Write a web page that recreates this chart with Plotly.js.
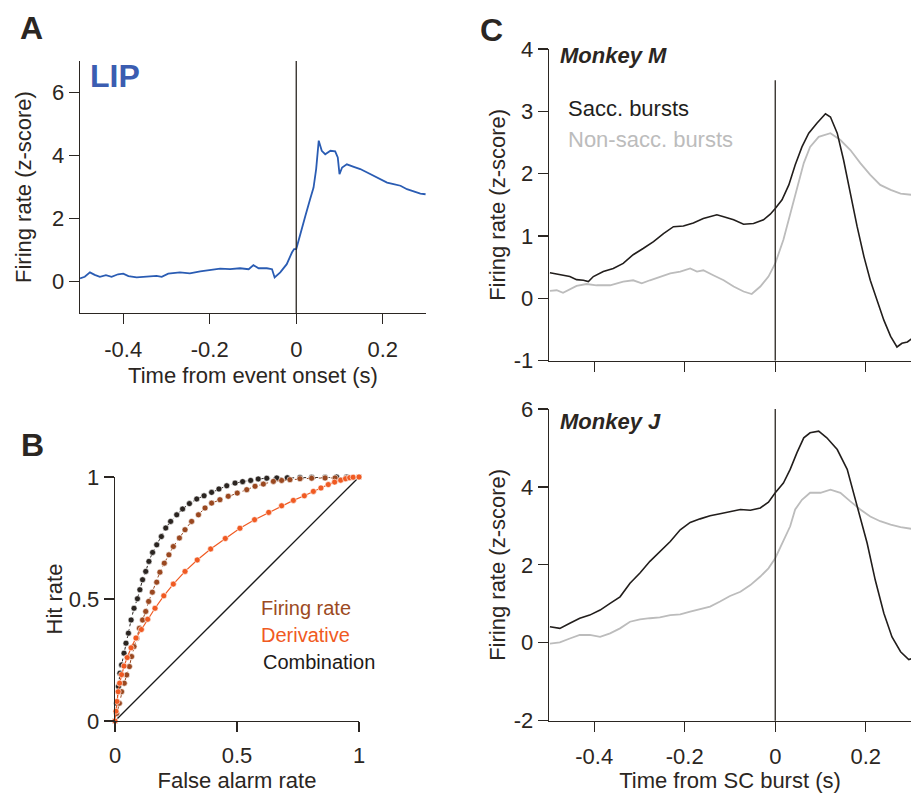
<!DOCTYPE html>
<html>
<head>
<meta charset="utf-8">
<script src="https://cdn.plot.ly/plotly-3.0.1.min.js"></script>
<style>html,body{margin:0;padding:0;background:#fff;}#chart{width:914px;height:793px;}</style>
</head>
<body>
<div id="chart"></div>
<script>
// ---------- Panel A: LIP ----------
const lipTime = [-0.5,-0.489,-0.477,-0.466,-0.454,-0.44,-0.427,-0.412,-0.4,-0.388,-0.369,-0.346,-0.323,-0.311,-0.296,-0.269,-0.246,-0.222,-0.199,-0.176,-0.153,-0.13,-0.11,-0.099,-0.087,-0.068,-0.056,-0.05,-0.037,-0.022,-0.01,-0.005,0,0.009,0.021,0.032,0.04,0.046,0.052,0.059,0.067,0.079,0.09,0.096,0.1,0.106,0.117,0.133,0.148,0.164,0.179,0.195,0.21,0.225,0.241,0.256,0.272,0.287,0.299];
const lipRate = [0.1,0.15,0.29,0.21,0.15,0.2,0.15,0.23,0.25,0.17,0.13,0.15,0.18,0.15,0.25,0.29,0.26,0.32,0.36,0.41,0.39,0.42,0.39,0.52,0.42,0.42,0.39,0.13,0.29,0.55,0.92,1.03,1.03,1.45,2.08,2.61,2.98,3.57,4.47,4.15,4.04,4.15,4.13,3.94,3.41,3.62,3.72,3.64,3.57,3.46,3.35,3.25,3.14,3.09,3.04,2.93,2.86,2.79,2.77];

// ---------- Panel B: ROC ----------
const rocFaFiring = [0,0.007,0.018,0.027,0.038,0.048,0.059,0.068,0.078,0.089,0.1,0.113,0.126,0.138,0.153,0.171,0.184,0.202,0.221,0.239,0.264,0.287,0.314,0.342,0.369,0.396,0.43,0.464,0.501,0.54,0.574,0.608,0.649,0.683,0.717,0.758,0.806,0.861,0.902,0.949,1];
const rocHitFiring = [0,0.031,0.073,0.12,0.155,0.189,0.223,0.264,0.305,0.339,0.38,0.414,0.449,0.49,0.528,0.569,0.61,0.647,0.681,0.715,0.75,0.784,0.818,0.845,0.873,0.893,0.907,0.921,0.934,0.948,0.962,0.971,0.982,0.986,0.989,0.993,0.995,0.996,0.996,0.996,1];
const rocFaDeriv = [0,0.004,0.008,0.013,0.019,0.027,0.037,0.05,0.066,0.086,0.108,0.134,0.164,0.2,0.239,0.287,0.337,0.392,0.452,0.512,0.572,0.63,0.683,0.731,0.776,0.813,0.844,0.874,0.9,0.925,0.945,0.962,0.976,1];
const rocHitDeriv = [0,0.04,0.08,0.12,0.155,0.19,0.225,0.26,0.3,0.34,0.375,0.417,0.462,0.513,0.561,0.613,0.66,0.705,0.748,0.79,0.825,0.855,0.882,0.904,0.923,0.941,0.955,0.969,0.979,0.987,0.993,0.997,0.999,1];
const rocFaComb = [0,0.007,0.014,0.02,0.027,0.037,0.045,0.055,0.066,0.078,0.092,0.102,0.113,0.126,0.139,0.154,0.171,0.19,0.208,0.228,0.253,0.277,0.305,0.335,0.365,0.396,0.426,0.458,0.492,0.523,0.556,0.587,0.622,0.663,0.706,0.758,0.806,0.861,0.908,0.949,1];
const rocHitComb = [0,0.073,0.141,0.196,0.23,0.278,0.319,0.36,0.414,0.462,0.501,0.538,0.579,0.613,0.654,0.691,0.722,0.756,0.791,0.818,0.845,0.869,0.891,0.91,0.923,0.937,0.951,0.964,0.975,0.981,0.986,0.992,0.995,0.996,0.997,0.998,0.999,0.999,1,1,1];

// ---------- Panel C: Monkey M ----------
const mTimeSacc = [-0.498,-0.483,-0.469,-0.454,-0.439,-0.424,-0.413,-0.402,-0.38,-0.358,-0.336,-0.314,-0.292,-0.269,-0.247,-0.225,-0.203,-0.181,-0.159,-0.129,-0.114,-0.092,-0.07,-0.048,-0.026,-0.011,0,0.015,0.03,0.044,0.059,0.074,0.092,0.111,0.122,0.137,0.151,0.166,0.181,0.196,0.21,0.225,0.24,0.255,0.269,0.28,0.292,0.303];
const mRateSacc = [0.41,0.39,0.37,0.35,0.3,0.29,0.27,0.35,0.43,0.48,0.56,0.7,0.8,0.91,1.04,1.15,1.16,1.21,1.28,1.34,1.31,1.26,1.19,1.2,1.26,1.35,1.44,1.58,1.82,2.14,2.43,2.65,2.81,2.96,2.91,2.65,2.22,1.68,1.15,0.67,0.29,-0.03,-0.35,-0.61,-0.78,-0.72,-0.7,-0.64];
const mTimeNon = [-0.498,-0.483,-0.469,-0.454,-0.439,-0.417,-0.395,-0.365,-0.336,-0.314,-0.295,-0.277,-0.255,-0.232,-0.21,-0.188,-0.173,-0.159,-0.137,-0.114,-0.092,-0.07,-0.052,-0.033,-0.015,0,0.018,0.033,0.048,0.063,0.077,0.096,0.122,0.144,0.166,0.188,0.21,0.232,0.255,0.277,0.303];
const mRateNon = [0.12,0.13,0.09,0.14,0.2,0.23,0.21,0.21,0.27,0.29,0.24,0.29,0.35,0.4,0.43,0.48,0.43,0.45,0.37,0.29,0.19,0.11,0.07,0.19,0.35,0.56,0.94,1.36,1.79,2.17,2.43,2.59,2.65,2.54,2.38,2.17,1.98,1.82,1.74,1.68,1.66];

// ---------- Panel C: Monkey J ----------
const jTimeSacc = [-0.498,-0.476,-0.454,-0.432,-0.41,-0.387,-0.365,-0.343,-0.321,-0.299,-0.277,-0.255,-0.232,-0.21,-0.188,-0.166,-0.144,-0.122,-0.1,-0.077,-0.055,-0.033,-0.015,0,0.018,0.033,0.048,0.063,0.077,0.096,0.114,0.137,0.159,0.181,0.203,0.221,0.24,0.258,0.277,0.295,0.303];
const jRateSacc = [0.41,0.37,0.5,0.63,0.71,0.84,1.01,1.18,1.53,1.79,2.09,2.34,2.6,2.9,3.09,3.18,3.26,3.31,3.37,3.42,3.4,3.46,3.61,3.85,4.1,4.45,4.88,5.26,5.39,5.43,5.26,4.96,4.45,3.5,2.56,1.61,0.76,0.15,-0.23,-0.43,-0.4];
const jTimeNon = [-0.498,-0.476,-0.454,-0.432,-0.41,-0.387,-0.365,-0.343,-0.321,-0.299,-0.277,-0.255,-0.232,-0.21,-0.188,-0.166,-0.144,-0.122,-0.1,-0.077,-0.055,-0.033,-0.015,0,0.018,0.033,0.044,0.059,0.077,0.1,0.122,0.144,0.166,0.188,0.21,0.232,0.255,0.277,0.303];
const jRateNon = [-0.02,0.01,0.11,0.2,0.2,0.15,0.24,0.37,0.54,0.6,0.63,0.65,0.71,0.73,0.8,0.86,0.93,1.06,1.2,1.31,1.48,1.7,1.91,2.17,2.64,2.99,3.42,3.67,3.85,3.85,3.93,3.85,3.63,3.42,3.24,3.12,3.03,2.97,2.92];

// ---------- Tick labels ----------
const timeTickVals = [-0.4,-0.2,0,0.2];
const timeTickText = ['-0.4','-0.2','0','0.2'];
const lipTickVals = [0,2,4,6];
const lipTickText = ['0','2','4','6'];
const rocTickVals = [0,0.5,1];
const rocTickText = ['0','0.5','1'];
const mTickVals = [-1,0,1,2,3,4];
const mTickText = ['-1','0','1','2','3','4'];
const jTickVals = [-2,0,2,4,6];
const jTickText = ['-2','0','2','4','6'];

const FONT = 'Liberation Sans, Arial, sans-serif';
const INK = '#2b2622';
const BLUE = '#2a5cb3';
const SACC = '#221e1c';
const NONSACC = '#bcbcbc';
const C_FIRING = '#9a4820';
const C_DERIV = '#f05a22';
const C_COMB = '#2b2521';

const W = 914, H = 793;
const px = v => v / W;
const py = v => 1 - v / H;

function axisBase(extra) {
  return Object.assign({
    showline: true, linecolor: INK, linewidth: 1.3,
    ticks: 'outside', ticklen: 10, tickwidth: 1.3, tickcolor: INK,
    showgrid: false, zeroline: false, fixedrange: true,
    tickfont: {family: FONT, size: 22, color: INK},
    tickmode: 'array'
  }, extra);
}

const traces = [
  {x: lipTime, y: lipRate, xaxis: 'x', yaxis: 'y', type: 'scatter', mode: 'lines',
   line: {color: BLUE, width: 1.8}, name: 'LIP'},
  {x: rocFaComb, y: rocHitComb, xaxis: 'x2', yaxis: 'y2', type: 'scatter', mode: 'lines+markers',
   line: {color: C_COMB, width: 1, dash: 'dot'}, marker: {color: C_COMB, size: 6, line: {color: '#ffffff', width: 0.6}},
   cliponaxis: false, name: 'Combination'},
  {x: rocFaFiring, y: rocHitFiring, xaxis: 'x2', yaxis: 'y2', type: 'scatter', mode: 'lines+markers',
   line: {color: C_FIRING, width: 1, dash: 'dot'}, marker: {color: C_FIRING, size: 6, line: {color: '#ffffff', width: 0.6}},
   cliponaxis: false, name: 'Firing rate'},
  {x: rocFaDeriv, y: rocHitDeriv, xaxis: 'x2', yaxis: 'y2', type: 'scatter', mode: 'lines+markers',
   line: {color: C_DERIV, width: 1.2}, marker: {color: C_DERIV, size: 6, line: {color: '#ffffff', width: 0.6}},
   cliponaxis: false, name: 'Derivative'},
  {x: mTimeNon, y: mRateNon, xaxis: 'x3', yaxis: 'y3', type: 'scatter', mode: 'lines',
   line: {color: NONSACC, width: 1.8}, name: 'Non-sacc. bursts'},
  {x: mTimeSacc, y: mRateSacc, xaxis: 'x3', yaxis: 'y3', type: 'scatter', mode: 'lines',
   line: {color: SACC, width: 1.6}, name: 'Sacc. bursts'},
  {x: jTimeNon, y: jRateNon, xaxis: 'x4', yaxis: 'y4', type: 'scatter', mode: 'lines',
   line: {color: NONSACC, width: 1.8}, name: 'Non-sacc. bursts'},
  {x: jTimeSacc, y: jRateSacc, xaxis: 'x4', yaxis: 'y4', type: 'scatter', mode: 'lines',
   line: {color: SACC, width: 1.6}, name: 'Sacc. bursts'}
];

const titleFont = {family: FONT, size: 22, color: INK};

const layout = {
  width: W, height: H,
  margin: {l: 0, r: 0, t: 0, b: 0},
  paper_bgcolor: '#ffffff', plot_bgcolor: 'rgba(0,0,0,0)',
  showlegend: false,
  font: {family: FONT, color: INK},
  xaxis: axisBase({domain: [px(80), px(426)], range: [-0.5, 0.3], anchor: 'y',
    tickvals: timeTickVals, ticktext: timeTickText, ticklabelstandoff: 6,
    title: {text: 'Time from event onset (s)', font: titleFont, standoff: 7}}),
  yaxis: axisBase({domain: [py(313), py(61)], range: [-1, 7], anchor: 'x',
    tickvals: lipTickVals, ticktext: lipTickText}),
  xaxis2: axisBase({domain: [px(115), px(359)], range: [0, 1], anchor: 'y2',
    tickvals: rocTickVals, ticktext: rocTickText, ticklabelstandoff: 4,
    title: {text: 'False alarm rate', font: titleFont, standoff: 8}}),
  yaxis2: axisBase({domain: [py(721), py(477)], range: [0, 1], anchor: 'x2',
    tickvals: rocTickVals, ticktext: rocTickText,
    title: {text: 'Hit rate', font: titleFont, standoff: 0}}),
  xaxis3: axisBase({domain: [px(549), px(911)], range: [-0.5, 0.3], anchor: 'y3',
    tickvals: timeTickVals, ticktext: timeTickText, showticklabels: false}),
  yaxis3: axisBase({domain: [py(360.7), py(49)], range: [-1, 4], anchor: 'x3',
    tickvals: mTickVals, ticktext: mTickText,
    title: {text: 'Firing rate (z-score)', font: titleFont, standoff: 2}}),
  xaxis4: axisBase({domain: [px(549), px(911)], range: [-0.5, 0.3], anchor: 'y4',
    tickvals: timeTickVals, ticktext: timeTickText, ticklabelstandoff: 6,
    title: {text: 'Time from SC burst (s)', font: titleFont, standoff: 6}}),
  yaxis4: axisBase({domain: [py(720.7), py(409)], range: [-2, 6], anchor: 'x4',
    tickvals: jTickVals, ticktext: jTickText,
    title: {text: 'Firing rate (z-score)', font: titleFont, standoff: 2}}),
  shapes: [
    {type: 'line', xref: 'x', yref: 'y domain', x0: 0, x1: 0, y0: 0, y1: 1, line: {color: INK, width: 1.3}},
    {type: 'line', xref: 'x2', yref: 'y2', x0: 0, x1: 1, y0: 0, y1: 1, line: {color: '#1a1a1a', width: 1.3}, layer: 'below'},
    {type: 'line', xref: 'x3', yref: 'y3', x0: 0, x1: 0, y0: -1, y1: 3.5, line: {color: INK, width: 1.3}},
    {type: 'line', xref: 'x4', yref: 'y4 domain', x0: 0, x1: 0, y0: 0, y1: 1, line: {color: INK, width: 1.3}}
  ],
  annotations: [
    {text: 'Firing rate (z-score)', xref: 'paper', yref: 'paper', x: px(23), y: py(187), xanchor: 'center', yanchor: 'middle', textangle: -90, showarrow: false, font: titleFont},
    {text: '<b>A</b>', xref: 'paper', yref: 'paper', x: px(31), y: py(28), xanchor: 'center', yanchor: 'middle', showarrow: false, font: {family: FONT, size: 32, color: INK}},
    {text: '<b>B</b>', xref: 'paper', yref: 'paper', x: px(32), y: py(445), xanchor: 'center', yanchor: 'middle', showarrow: false, font: {family: FONT, size: 32, color: INK}},
    {text: '<b>C</b>', xref: 'paper', yref: 'paper', x: px(491), y: py(30), xanchor: 'center', yanchor: 'middle', showarrow: false, font: {family: FONT, size: 32, color: INK}},
    {text: '<b>LIP</b>', xref: 'paper', yref: 'paper', x: px(88), y: py(76), xanchor: 'left', yanchor: 'middle', showarrow: false, font: {family: FONT, size: 32, color: '#3b5db1'}},
    {text: 'Firing rate', xref: 'paper', yref: 'paper', x: px(259), y: py(608), xanchor: 'left', yanchor: 'middle', showarrow: false, font: {family: FONT, size: 20, color: '#9c4a22'}},
    {text: 'Derivative', xref: 'paper', yref: 'paper', x: px(259), y: py(635), xanchor: 'left', yanchor: 'middle', showarrow: false, font: {family: FONT, size: 20, color: C_DERIV}},
    {text: 'Combination', xref: 'paper', yref: 'paper', x: px(261), y: py(662), xanchor: 'left', yanchor: 'middle', showarrow: false, font: {family: FONT, size: 20, color: '#1e1a18'}},
    {text: '<b><i>Monkey M</i></b>', xref: 'paper', yref: 'paper', x: px(558), y: py(56), xanchor: 'left', yanchor: 'middle', showarrow: false, font: {family: FONT, size: 22, color: INK}},
    {text: 'Sacc. bursts', xref: 'paper', yref: 'paper', x: px(566), y: py(108), xanchor: 'left', yanchor: 'middle', showarrow: false, font: {family: FONT, size: 22, color: SACC}},
    {text: 'Non-sacc. bursts', xref: 'paper', yref: 'paper', x: px(566), y: py(139), xanchor: 'left', yanchor: 'middle', showarrow: false, font: {family: FONT, size: 22, color: NONSACC}},
    {text: '<b><i>Monkey J</i></b>', xref: 'paper', yref: 'paper', x: px(558), y: py(421), xanchor: 'left', yanchor: 'middle', showarrow: false, font: {family: FONT, size: 22, color: INK}}
  ]
};

Plotly.newPlot('chart', traces, layout, {staticPlot: true, displayModeBar: false});
</script>
</body>
</html>
